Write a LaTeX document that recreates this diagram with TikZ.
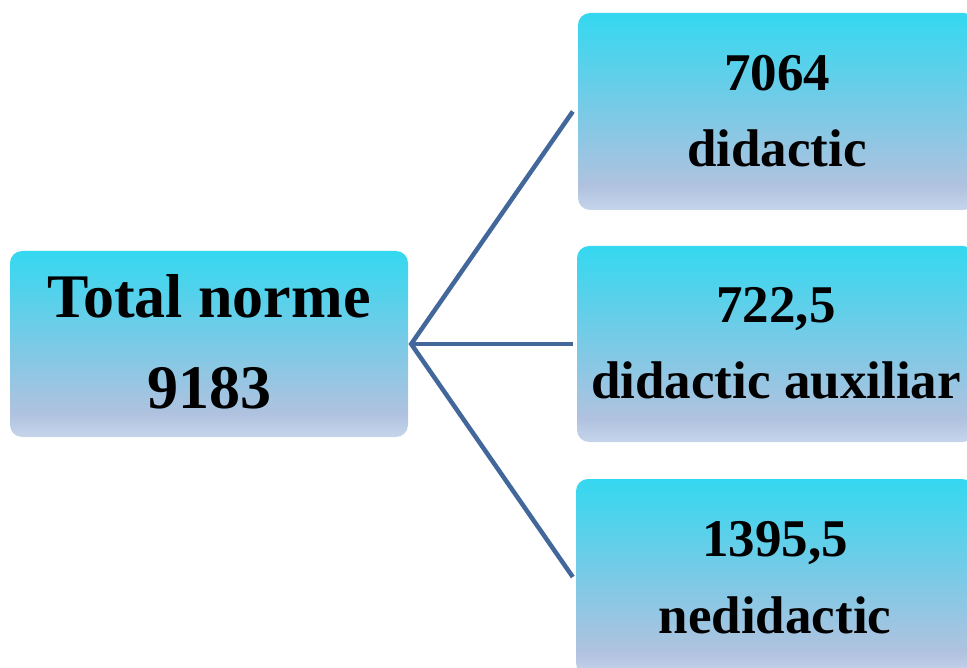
\documentclass[tikz,border=0pt]{standalone}
\usepackage{fontspec}
\setmainfont{Liberation Serif}
\definecolor{shBot}{RGB}{198,213,235}
\definecolor{shLav}{RGB}{176,194,223}
\definecolor{shMid}{RGB}{122,202,230}
\definecolor{shTop}{RGB}{52,216,240}
\pgfdeclareverticalshading{boxshade}{100bp}{%
  color(0bp)=(shBot);
  color(25bp)=(shBot);
  color(31bp)=(shLav);
  color(50bp)=(shMid);
  color(75bp)=(shTop);
  color(100bp)=(shTop)}
\definecolor{linkblue}{RGB}{65,103,155}
\begin{document}
\begin{tikzpicture}[x=1pt,y=-1pt,
  box/.style={rectangle, rounded corners=12pt, shading=boxshade, draw=none,
    minimum width=398pt, inner sep=0pt},
  bigtxt/.style={anchor=base, font=\fontsize{62}{70}\selectfont\bfseries, inner sep=0pt},
  smalltxt/.style={anchor=base, font=\fontsize{53}{60}\selectfont\bfseries, inner sep=0pt},
  link/.style={draw=linkblue, line width=4.5pt, line join=miter}]
\useasboundingbox (0,0) rectangle (967,668);
% boxes
\node[box, minimum height=186pt] (L) at (209,344) {};
\node[box, minimum height=197pt] (T) at (777,111.5) {};
\node[box, minimum height=196pt] (M) at (776,344) {};
\node[box, minimum height=196pt] (B) at (775,577) {};
% texts
\node[bigtxt] (L1) at (209,318) {Total norme};
\node[bigtxt] (L2) at (209,409) {9183};
\node[smalltxt] (T1) at (777,91) {7064};
\node[smalltxt] (T2) at (777,167) {didactic};
\node[smalltxt] (M1) at (776,323) {722,5};
\node[smalltxt] (M2) at (776,399) {didactic auxiliar};
\node[smalltxt] (B1) at (775,556) {1395,5};
\node[smalltxt] (B2) at (775,633) {nedidactic};
% connectors
\coordinate (J) at ([xshift=3pt]L.east);
\coordinate (Te) at ([xshift=-5pt]T.west);
\coordinate (Me) at ([xshift=-4pt]M.west);
\coordinate (Be) at ([xshift=-3pt]B.west);
\draw[link] (Te) -- (J) -- (Be);
\draw[link] (J) -- (Me);
\end{tikzpicture}
\end{document}
